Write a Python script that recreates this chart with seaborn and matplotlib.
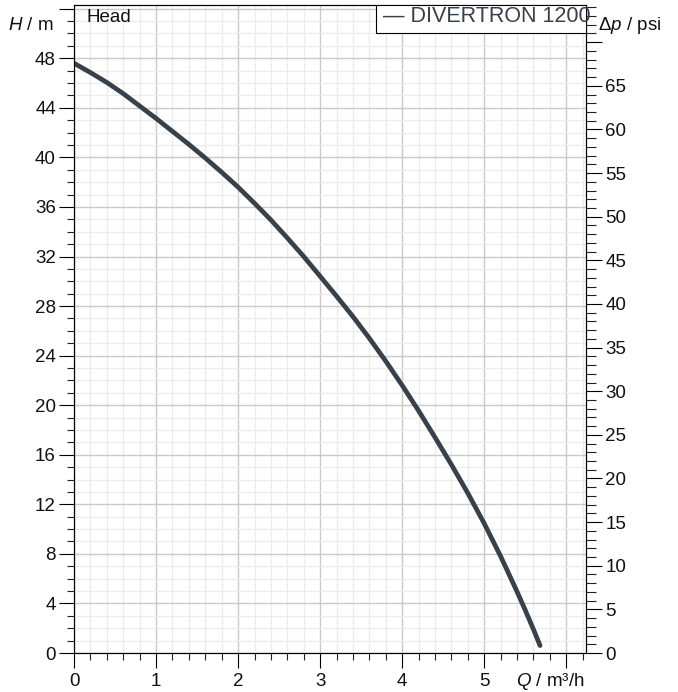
import matplotlib
matplotlib.use("Agg")
import matplotlib.pyplot as plt
import seaborn as sns
import pandas as pd
from matplotlib.ticker import MultipleLocator, FixedLocator, FixedFormatter
from matplotlib.patches import Rectangle

# ---- data ----
flow_q = [0.0, 0.2, 0.4, 0.6, 0.8, 1.0, 1.2, 1.4, 1.6, 1.8, 2.0, 2.2, 2.4, 2.6, 2.8,
          3.0, 3.2, 3.4, 3.6, 3.8, 4.0, 4.2, 4.4, 4.6, 4.8, 5.0, 5.2, 5.4, 5.5, 5.6, 5.68]
head_h = [47.6, 46.85, 46.05, 45.15, 44.15, 43.15, 42.1, 41.05, 39.95, 38.8, 37.6, 36.3,
          34.95, 33.5, 32.0, 30.4, 28.8, 27.15, 25.4, 23.55, 21.6, 19.55, 17.4, 15.2,
          12.9, 10.45, 7.8, 4.95, 3.45, 1.9, 0.6]
series_name = "DIVERTRON 1200"
x_tick_values = [0, 1, 2, 3, 4, 5, 6]
x_tick_labels = ["0", "1", "2", "3", "4", "5", ""]
h_tick_values = list(range(0, 53, 4))
h_tick_labels = [str(v) if v <= 48 else "" for v in h_tick_values]
psi_tick_values = list(range(0, 75, 5))
psi_tick_labels = [str(v) if v <= 65 else "" for v in psi_tick_values]
M_TO_PSI = 1.42

# ---- style ----
sns.set_style("ticks")
plt.rcParams['font.family'] = ['Liberation Sans', 'DejaVu Sans']
plt.rcParams['mathtext.fontset'] = 'custom'
plt.rcParams['mathtext.it'] = 'Liberation Sans:italic'
plt.rcParams['mathtext.rm'] = 'Liberation Sans'
plt.rcParams['mathtext.sf'] = 'Liberation Sans'

CURVE = "#37414b"
W, H = 678, 692
fig = plt.figure(figsize=(W / 100, H / 100), dpi=100)
L, R, B, T = 74, 586, 653, 5
ax = fig.add_axes([L / W, 1 - B / H, (R - L) / W, (B - T) / H])

def fx(px):
    return px / W

def fy(py):
    return 1 - py / H

df = pd.DataFrame({"Q": flow_q, "H": head_h})
sns.lineplot(data=df, x="Q", y="H", ax=ax, color=CURVE, lw=3.4,
             solid_capstyle="round", solid_joinstyle="round", legend=False, zorder=3)

XMAX, YMAX = 6.24, 52.3
ax.set_xlim(0, XMAX)
ax.set_ylim(0, YMAX)
ax.set_xlabel("")
ax.set_ylabel("")

ax.xaxis.set_major_locator(FixedLocator(x_tick_values))
ax.xaxis.set_major_formatter(FixedFormatter(x_tick_labels))
ax.xaxis.set_minor_locator(MultipleLocator(0.2))
ax.yaxis.set_major_locator(FixedLocator(h_tick_values))
ax.yaxis.set_major_formatter(FixedFormatter(h_tick_labels))
ax.yaxis.set_minor_locator(MultipleLocator(1))

ax.set_axisbelow(True)
ax.grid(which="major", color="#c9c9c9", lw=1.0)
ax.grid(which="minor", color="#ececec", lw=1.0)

ax.tick_params(which="major", length=10.5, width=0.8, color="black",
               labelsize=13.5, pad=2.5, labelcolor="#111111")
ax.tick_params(axis="x", which="major", pad=4)
ax.tick_params(which="minor", length=5.3, width=0.8, color="#222222")
for s in ax.spines.values():
    s.set_visible(True)
    s.set_color("black")
    s.set_linewidth(0.8)

ax2 = ax.twinx()
ax2.set_ylim(0, YMAX * M_TO_PSI)
ax2.yaxis.set_major_locator(FixedLocator(psi_tick_values))
ax2.yaxis.set_major_formatter(FixedFormatter(psi_tick_labels))
ax2.yaxis.set_minor_locator(MultipleLocator(1))
ax2.tick_params(which="major", length=11.3, width=0.8, color="black",
                labelsize=13.5, pad=2.5, labelcolor="#111111")
ax2.tick_params(which="minor", length=7.2, width=0.8, color="#222222")
ax2.grid(False)
for s in ax2.spines.values():
    s.set_visible(True)
    s.set_color("black")
    s.set_linewidth(0.8)

# axis titles
fig.text(fx(54), fy(25), "$H$ / m", ha="right", va="center", fontsize=13.5, color="#111111")
fig.text(fx(598), fy(26), "Δ$p$ / psi", ha="left", va="center", fontsize=13.5, color="#111111")
fig.text(fx(585), fy(682), "$Q$ / m³/h", ha="right", va="center", fontsize=13.5, color="#111111")
fig.text(fx(86), fy(17), "Head", ha="left", va="center", fontsize=13.5, color="#111111")

# legend box (clipped)
rect = Rectangle((fx(376), fy(33.3)), (587 - 376) / W, 28.3 / H,
                 transform=fig.transFigure, facecolor="white",
                 edgecolor="black", lw=0.8, zorder=5)
ax2.add_patch(rect)
t = ax2.text(fx(382.7), fy(17), "— " + series_name, transform=fig.transFigure,
             ha="left", va="center", fontsize=15.5, color=CURVE, zorder=6)
t.set_clip_path(rect)

fig.savefig("out.png", dpi=100)
